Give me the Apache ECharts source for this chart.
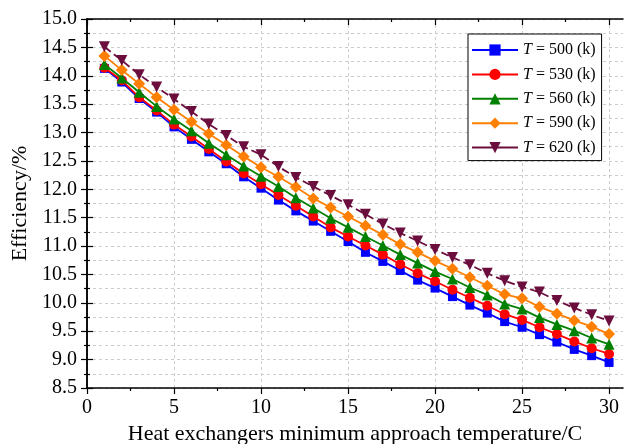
<!DOCTYPE html>
<html>
<head>
<meta charset="utf-8">
<script src="https://cdn.jsdelivr.net/npm/echarts@6/dist/echarts.min.js"></script>
<style>html,body{margin:0;padding:0;background:#fff}#c{width:627px;height:444px}</style>
</head>
<body>
<div id="c"></div>
<script>
const xValues = [1,2,3,4,5,6,7,8,9,10,11,12,13,14,15,16,17,18,19,20,21,22,23,24,25,26,27,28,29,30];
const seriesNames = ['500', '530', '560', '590', '620'];
const t500 = [14.13,13.89,13.60,13.36,13.10,12.88,12.66,12.45,12.22,12.02,11.81,11.62,11.44,11.26,11.08,10.89,10.73,10.57,10.40,10.26,10.11,9.96,9.82,9.67,9.57,9.44,9.31,9.18,9.07,8.95];
const t530 = [14.14,13.92,13.62,13.39,13.14,12.93,12.71,12.49,12.28,12.09,11.90,11.71,11.52,11.33,11.17,11.01,10.85,10.68,10.52,10.38,10.23,10.09,9.95,9.80,9.70,9.57,9.45,9.32,9.20,9.10];
const t560 = [14.20,13.96,13.71,13.46,13.24,13.03,12.81,12.61,12.41,12.23,12.05,11.85,11.67,11.49,11.33,11.17,11.01,10.85,10.70,10.55,10.42,10.27,10.14,9.98,9.89,9.74,9.62,9.51,9.38,9.27];
const t590 = [14.35,14.10,13.86,13.62,13.40,13.19,12.98,12.78,12.58,12.39,12.22,12.04,11.84,11.68,11.52,11.36,11.20,11.03,10.89,10.74,10.60,10.45,10.30,10.15,10.08,9.93,9.81,9.69,9.58,9.45];
const t620 = [14.51,14.27,14.02,13.80,13.59,13.37,13.15,12.95,12.75,12.61,12.40,12.21,12.05,11.89,11.73,11.56,11.39,11.23,11.09,10.94,10.80,10.67,10.52,10.39,10.28,10.19,10.04,9.91,9.79,9.68];
const xMajorTicks = [0,5,10,15,20,25,30];
const xMinorTicks = [2.5,7.5,12.5,17.5,22.5,27.5];
const xTitle = 'Heat exchangers minimum approach temperature/C';
const yTitle = 'Efficiency/%';

const allData = [t500, t530, t560, t590, t620];
const colors = ['#0000ff', '#ff0000', '#008000', '#ff8000', '#6b0d3d'];
const symbols = ['rect', 'circle', 'triangle', 'diamond', 'triangle'];
const symbolSizes = [9, 10, 11, 12, 11];
const rotates = [0, 0, 0, 0, 180];
const FONT = 'Liberation Serif';

const chart = echarts.init(document.getElementById('c'), null, {renderer: 'canvas'});
const X0 = 0, X1 = 30.8, Y0 = 8.5, Y1 = 15;
const axisLine = {show: true, lineStyle: {color: '#000', width: 1.5}};
const grid = {left: 87, right: 4, top: 19, bottom: 56, containLabel: false, outerBoundsMode: 'none'};

const xAxes = [
  { type: 'value', position: 'bottom', min: X0, max: X1, interval: 5,
    axisLine, name: xTitle, nameLocation: 'middle', nameGap: 27,
    nameTextStyle: {fontFamily: FONT, fontSize: 22, color: '#000'},
    axisTick: {show: true, inside: false, length: 6, customValues: xMajorTicks, lineStyle: {color: '#000', width: 1.2}},
    axisLabel: {show: true, customValues: xMajorTicks, margin: 10, fontFamily: FONT, fontSize: 20, color: '#000'},
    splitLine: {show: true, lineStyle: {color: '#cccccc', type: [3, 3], width: 1}},
    minorTick: {show: false}
  },
  { type: 'value', position: 'bottom', min: X0, max: X1, interval: 5, axisLine: {show: false},
    axisTick: {show: true, inside: false, length: 3, customValues: xMinorTicks, lineStyle: {color: '#000', width: 1.2}},
    axisLabel: {show: false}, splitLine: {show: false}
  },
  { type: 'value', position: 'top', min: X0, max: X1, interval: 5, axisLine,
    axisTick: {show: true, inside: true, length: 6, customValues: xMajorTicks, lineStyle: {color: '#000', width: 1.2}},
    axisLabel: {show: false}, splitLine: {show: false}
  },
  { type: 'value', position: 'top', min: X0, max: X1, interval: 5, axisLine: {show: false},
    axisTick: {show: true, inside: true, length: 3, customValues: xMinorTicks, lineStyle: {color: '#000', width: 1.2}},
    axisLabel: {show: false}, splitLine: {show: false}
  }
];
const yAxes = [
  { type: 'value', position: 'left', min: Y0, max: Y1, interval: 0.5, axisLine,
    name: yTitle, nameLocation: 'middle', nameGap: 56, nameRotate: 90,
    nameTextStyle: {fontFamily: FONT, fontSize: 22, color: '#000'},
    axisTick: {show: true, inside: false, length: 6, lineStyle: {color: '#000', width: 1.2}},
    minorTick: {show: true, splitNumber: 2, length: 3, lineStyle: {color: '#000', width: 1.2}},
    axisLabel: {show: true, margin: 10, fontFamily: FONT, fontSize: 20, color: '#000', formatter: v => v.toFixed(1)},
    splitLine: {show: true, lineStyle: {color: '#cccccc', type: [3, 3], width: 1}},
    minorSplitLine: {show: true, lineStyle: {color: '#cccccc', type: [3, 3], width: 1}}
  },
  { type: 'value', position: 'right', min: Y0, max: Y1, interval: 0.5, axisLine,
    axisTick: {show: true, inside: false, length: 6, lineStyle: {color: '#000', width: 1.2}},
    minorTick: {show: true, splitNumber: 2, length: 3, lineStyle: {color: '#000', width: 1.2}},
    axisLabel: {show: false}, splitLine: {show: false}
  }
];

const series = allData.map((d, i) => ({
  name: '{i|T} = ' + seriesNames[i] + ' (k)',
  type: 'line',
  xAxisIndex: 0, yAxisIndex: 0,
  data: xValues.map((x, j) => [x, d[j]]),
  symbol: symbols[i], symbolSize: symbolSizes[i], symbolRotate: rotates[i],
  showAllSymbol: true,
  color: colors[i],
  lineStyle: {width: 1.8, color: colors[i], type: i === 4 ? [8, 4] : 'solid'},
  itemStyle: {color: colors[i]},
  z: 2 + i,
  animation: false
}));

chart.setOption({
  animation: false,
  backgroundColor: '#fff',
  grid,
  xAxis: xAxes,
  yAxis: yAxes,
  legend: {
    orient: 'vertical', left: 468, top: 34,
    padding: [8, 6, 5, 3], itemGap: 8.4, itemWidth: 46, itemHeight: 14,
    borderColor: '#000', borderWidth: 1, backgroundColor: '#fff',
    data: series.map(s => ({name: s.name, itemStyle: {}, lineStyle: {type: 'solid'}})),
    textStyle: {fontFamily: FONT, fontSize: 16, color: '#000',
      rich: {i: {fontFamily: FONT, fontSize: 16, fontStyle: 'italic', color: '#000'}}}
  },
  series
});
</script>
</body>
</html>
